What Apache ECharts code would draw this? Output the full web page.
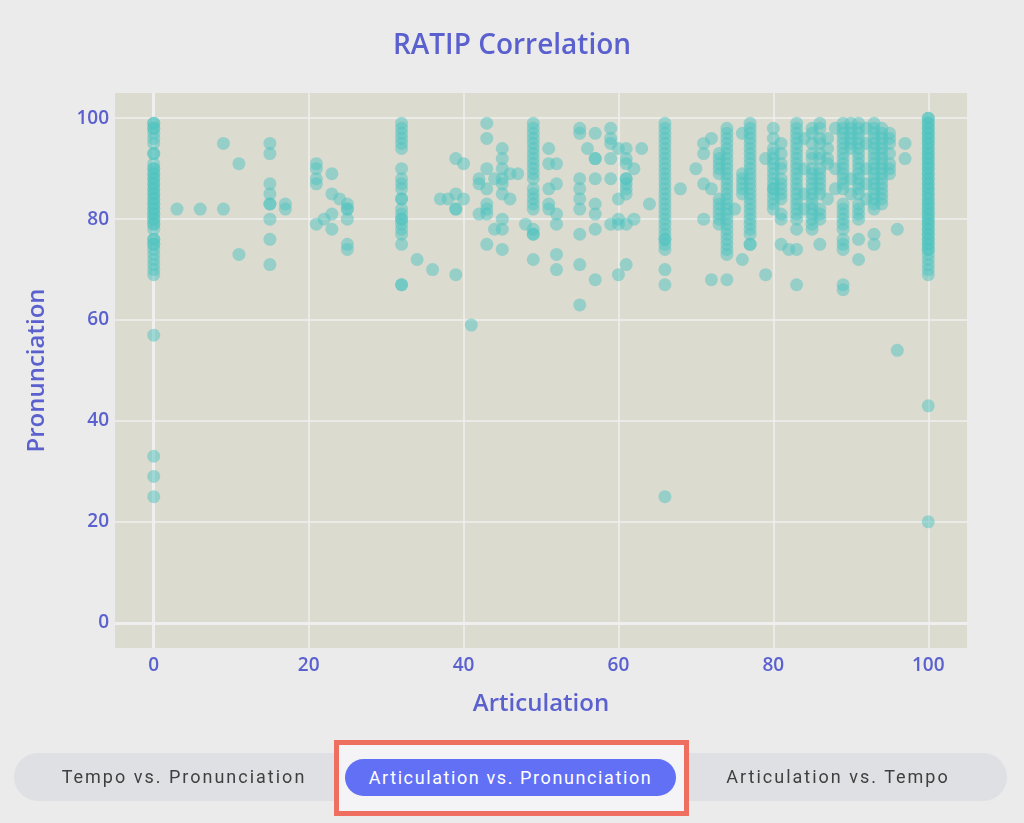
<!DOCTYPE html>
<html lang="en">
	<head>
		<meta charset="utf-8">
		<title>RATIP Correlation</title>
		<script type="text/javascript" src="https://cdn.jsdelivr.net/npm/echarts@6/dist/echarts.min.js"></script>
		<style>
			html, body { margin: 0; padding: 0; background: #ebebeb; }
			#container { position: absolute; left: 0; top: 0; width: 1024px; height: 823px; }
			.tabs {
				position: absolute; left: 14px; top: 753px; width: 993px; height: 48px;
				border-radius: 24px; background: #dfe0e3;
			}
			.tab {
				position: absolute; top: 0; height: 48px; line-height: 48px; text-align: center;
				font-family: Roboto, sans-serif; font-size: 18px; letter-spacing: 2px; color: #3f3f3f;
			}
			.mark {
				position: absolute; left: 334px; top: 740px; width: 345px; height: 66px;
				border: 5px solid #ee6f5f; background: #f4f4f6;
			}
			.active {
				position: absolute; left: 345px; top: 759px; width: 331px; height: 37px; line-height: 37px;
				border-radius: 19px; background: #6270f5; color: #fff; text-align: center;
				font-family: Roboto, sans-serif; font-size: 18px; letter-spacing: 1.6px;
			}
		</style>
	</head>
	<body>
		<div id="container"></div>
		<div class="tabs">
			<div class="tab" style="left: 20px; width: 300px;">Tempo vs. Pronunciation</div>
			<div class="tab" style="left: 674px; width: 300px;">Articulation vs. Tempo</div>
		</div>
		<div class="mark"></div>
		<div class="active">Articulation vs. Pronunciation</div>
		<script type="text/javascript">
			// articulation value of each column and the pronunciation scores found in it
			var articulation = [0, 3, 6, 9, 11, 15, 17, 21, 22, 23, 24, 25, 32, 34, 36, 37, 38, 39, 40, 41, 42, 43, 44, 45, 46, 47, 48, 49,
				51, 52, 55, 56, 57, 59, 60, 61, 62, 63, 64, 66, 68, 70, 71, 72, 73, 74, 75, 76, 77, 79, 80, 81, 82, 83, 84, 85, 86, 87, 88,
				89, 90, 91, 92, 93, 94, 95, 96, 97, 100];
			var pronunciation = [
				[99,99,98,98,97,96,95,93,93,91,90,90,89,89,88,88,87,87,86,86,85,85,84,84,83,83,82,82,81,81,80,80,79,79,78,76,76,75,75,74,73,72,71,70,69,57,33,29,25],
				[82],
				[82],
				[95, 82],
				[91, 73],
				[95, 93, 87, 85, 83, 83, 80, 76, 71],
				[83, 82],
				[91, 90, 88, 87, 79],
				[80],
				[89, 85, 81, 78],
				[84],
				[83, 82, 82, 80, 75, 74],
				[99, 98, 97, 96, 95, 94, 90, 88, 87, 86, 84, 84, 82, 81, 80, 80, 79, 78, 77, 75, 67, 67],
				[72],
				[70],
				[84],
				[84],
				[92, 85, 82, 82, 69],
				[91, 84],
				[59],
				[88, 87, 81],
				[99, 96, 90, 86, 83, 82, 81, 75],
				[88, 78],
				[94, 92, 90, 88, 87, 85, 80, 78, 74],
				[89, 84],
				[89],
				[79],
				[99, 98, 97, 96, 95, 94, 93, 92, 91, 90, 89, 88, 86, 85, 84, 83, 82, 78, 77, 77, 72],
				[94, 91, 86, 83, 82],
				[91, 87, 81, 79, 73, 70],
				[98, 97, 88, 86, 84, 82, 77, 71, 63],
				[94],
				[97, 92, 92, 88, 83, 81, 78, 68],
				[98, 96, 95, 92, 88, 79],
				[94, 84, 80, 79, 69],
				[94, 92, 91, 88, 88, 87, 86, 85, 79, 71],
				[90, 80],
				[94],
				[83],
				[99,98,97,96,95,94,93,92,91,90,89,88,87,86,85,84,83,82,81,80,79,78,77,76,76,75,74,70,67,25],
				[86],
				[90],
				[95, 93, 87, 80],
				[96, 86, 68],
				[93, 92, 91, 90, 89, 84, 83, 82, 81, 80, 79],
				[98,97,96,95,94,93,92,91,90,89,88,87,86,85,84,83,82,81,80,79,78,77,76,75,74,73,68],
				[82],
				[97, 89, 88, 87, 86, 85, 72],
				[99,98,97,96,95,94,93,92,91,90,89,88,87,86,85,84,83,82,81,80,79,78,77,75,75],
				[92, 69],
				[98,96,94,93,92,91,90,89,88,87,86,86,85,84,83,82],
				[95, 93, 91, 90, 88, 87, 86, 85, 84, 81, 80, 75],
				[74],
				[99,98,97,96,95,94,93,92,91,90,89,88,87,86,85,84,83,82,81,80,78,74,67],
				[96, 90, 85, 82],
				[98,97,95,93,92,90,89,88,87,86,85,84,83,82,81,80,79,78],
				[99,98,96,95,93,92,90,89,88,87,86,85,82,81,80,75],
				[96, 94, 92, 91, 84],
				[98, 90, 86],
				[99,98,97,96,95,94,93,92,91,90,89,88,87,86,83,82,81,80,79,78,76,75,74,67,66],
				[99, 98, 97, 96, 95, 94, 88, 85],
				[99,98,97,96,95,94,93,92,91,90,89,88,87,86,85,83,82,81,80,76,72],
				[98, 95, 90, 87, 84],
				[99,98,97,96,95,94,93,92,91,90,89,88,87,86,85,84,83,82,77,75],
				[98,97,96,95,94,93,92,91,90,89,88,87,86,85,84,83],
				[97, 96, 95, 93, 91, 90, 89],
				[78, 54],
				[95, 92],
				[100,100,99,99,98,98,97,97,96,96,95,95,94,94,93,93,92,92,91,91,90,90,89,89,88,88,87,87,86,86,85,85,84,84,83,83,82,82,81,81,80,80,79,79,78,78,77,77,76,76,75,75,74,74,73,72,71,70,69,43,20]
			];

			var points = [];
			for (var i = 0; i < articulation.length; i++) {
				for (var j = 0; j < pronunciation[i].length; j++) {
					points.push([articulation[i], pronunciation[i][j]]);
				}
			}

			var blue = '#5b60cf';
			var dom = document.getElementById("container");
			var myChart = echarts.init(dom);
			var option = {
				backgroundColor: '#ebebeb',
				animation: false,
				title: {
					text: 'RATIP Correlation',
					left: 'center',
					top: 27,
					textStyle: { color: blue, fontSize: 28, fontWeight: 600, fontFamily: 'Open Sans' }
				},
				grid: {
					left: 115,
					right: 57,
					top: 93,
					bottom: 175,
					show: true,
					backgroundColor: '#dcdbd0',
					borderWidth: 0
				},
				xAxis: {
					type: 'value',
					min: -5,
					max: 105,
					name: 'Articulation',
					nameLocation: 'middle',
					nameGap: 44,
					nameTextStyle: { color: blue, fontSize: 24, fontWeight: 600, fontFamily: 'Open Sans' },
					axisLine: { show: false },
					axisTick: { show: false },
					axisLabel: { color: blue, fontSize: 19, fontWeight: 600, fontFamily: 'Open Sans', margin: 8, showMinLabel: false, showMaxLabel: false },
					splitLine: { show: true, showMinLine: false, showMaxLine: false, lineStyle: { color: '#efefef', width: 1.5 } }
				},
				yAxis: {
					type: 'value',
					min: -5,
					max: 105,
					name: 'Pronunciation',
					nameLocation: 'middle',
					nameGap: 66,
					nameTextStyle: { color: blue, fontSize: 24, fontWeight: 600, fontFamily: 'Open Sans' },
					axisLine: { show: false },
					axisTick: { show: false },
					axisLabel: { color: blue, fontSize: 19, fontWeight: 600, fontFamily: 'Open Sans', margin: 6, showMinLabel: false, showMaxLabel: false },
					splitLine: { show: true, showMinLine: false, showMaxLine: false, lineStyle: { color: '#efefef', width: 1.5 } }
				},
				series: [
					{
						type: 'scatter',
						z: 3,
						symbolSize: 13,
						itemStyle: { color: '#4fc4c0', opacity: 0.5 },
						data: points,
						markLine: {
							silent: true,
							z: 1,
							symbol: 'none',
							label: { show: false },
							lineStyle: { color: '#efefef', width: 3, type: 'solid' },
							data: [{ xAxis: 0 }, { yAxis: 0 }]
						}
					}
				]
			};
			myChart.setOption(option, true);
		</script>
	</body>
</html>
